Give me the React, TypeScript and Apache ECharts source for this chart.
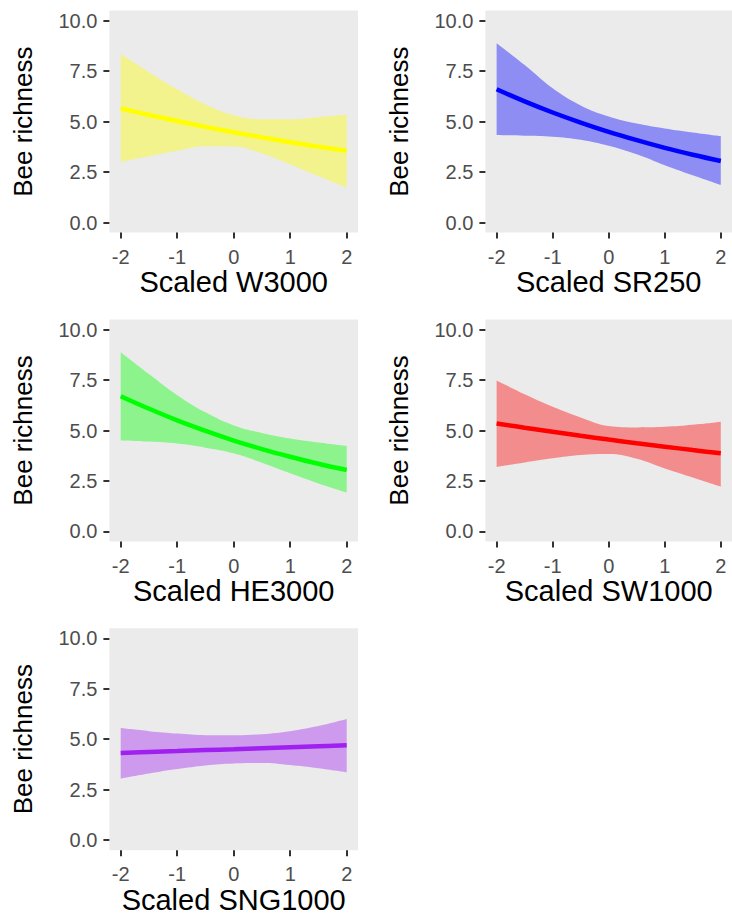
import React, { useEffect, useRef } from "react";
import * as echarts from "echarts";

const xs = [-2, -1.5, -1, -0.5, 0, 0.5, 1, 1.5, 2];
const xTicks = [-2, -1, 0, 1, 2];
const yTicks = [0, 2.5, 5, 7.5, 10];
const yTitle = "Bee richness";

const titles = ["Scaled W3000", "Scaled SR250", "Scaled HE3000", "Scaled SW1000", "Scaled SNG1000"];

const w3000Mean = [5.65, 5.33, 5.03, 4.74, 4.47, 4.22, 3.98, 3.76, 3.55];
const w3000Upper = [8.35, 7.45, 6.6, 5.85, 5.32, 5.12, 5.12, 5.22, 5.35];
const w3000Lower = [3.0, 3.28, 3.55, 3.78, 3.77, 3.42, 2.88, 2.3, 1.72];

const sr250Mean = [6.6, 6.0, 5.45, 4.95, 4.49, 4.08, 3.7, 3.36, 3.05];
const sr250Upper = [8.88, 7.8, 6.65, 5.8, 5.25, 4.9, 4.66, 4.46, 4.28];
const sr250Lower = [4.34, 4.3, 4.25, 4.1, 3.8, 3.38, 2.84, 2.34, 1.86];

const he3000Mean = [6.7, 6.08, 5.5, 4.98, 4.5, 4.08, 3.7, 3.35, 3.04];
const he3000Upper = [8.88, 7.8, 6.75, 5.9, 5.25, 4.88, 4.6, 4.4, 4.23];
const he3000Lower = [4.51, 4.45, 4.35, 4.15, 3.87, 3.4, 2.88, 2.38, 1.93];

const sw1000Mean = [5.35, 5.14, 4.94, 4.74, 4.55, 4.37, 4.2, 4.03, 3.87];
const sw1000Upper = [7.48, 6.8, 6.18, 5.65, 5.22, 5.15, 5.18, 5.28, 5.43];
const sw1000Lower = [3.19, 3.42, 3.62, 3.78, 3.83, 3.6, 3.12, 2.67, 2.22];

const sng1000Mean = [4.32, 4.37, 4.41, 4.46, 4.5, 4.55, 4.6, 4.65, 4.7];
const sng1000Upper = [5.55, 5.4, 5.28, 5.2, 5.19, 5.25, 5.4, 5.65, 6.0];
const sng1000Lower = [3.05, 3.3, 3.52, 3.7, 3.8, 3.82, 3.72, 3.56, 3.36];

const means = [w3000Mean, sr250Mean, he3000Mean, sw1000Mean, sng1000Mean];
const uppers = [w3000Upper, sr250Upper, he3000Upper, sw1000Upper, sng1000Upper];
const lowers = [w3000Lower, sr250Lower, he3000Lower, sw1000Lower, sng1000Lower];
const lineColors = ["#FFFF00", "#0000FF", "#00FF00", "#FF0000", "#A020F0"];
const PANEL_BG = "#EBEBEB";

const FONT = "Liberation Sans, Arial, sans-serif";

const panelLefts = [109.4, 485.4, 109.4, 485.4, 109.4];
const panelTops = [10.6, 319.5, 628.2];
const panelW = 248.6;
const panelH = 222;

export default function App() {
  const ref = useRef<HTMLDivElement>(null);
  useEffect(() => {
    if (!ref.current) return;
    const chart = echarts.init(ref.current, null, { renderer: "svg" });
    const grids: any[] = [];
    const xAxes: any[] = [];
    const yAxes: any[] = [];
    const series: any[] = [];
    for (let i = 0; i < 5; i++) {
      const row = Math.floor(i / 2);
      grids.push({
        left: panelLefts[i],
        top: panelTops[row],
        width: panelW,
        height: panelH,
        show: true,
        backgroundColor: PANEL_BG,
        borderWidth: 0,
        containLabel: false,
      });
      xAxes.push({
        type: "value",
        gridIndex: i,
        position: "bottom",
        min: -2.2,
        max: 2.2,
        name: titles[i],
        nameLocation: "middle",
        nameGap: 34,
        nameTextStyle: { color: "#000000", fontSize: 29, fontFamily: FONT },
        axisLine: { show: false, onZero: false },
        axisTick: { show: true, length: 6, customValues: xTicks, lineStyle: { color: "#333333", width: 2 } },
        axisLabel: {
          show: true,
          customValues: xTicks,
          margin: 14,
          color: "#4D4D4D",
          fontSize: 20,
          fontFamily: FONT,
          formatter: (v: number) => String(v),
        },
        splitLine: { show: false },
      });
      yAxes.push({
        type: "value",
        gridIndex: i,
        position: "left",
        min: -0.5,
        max: 10.5,
        name: yTitle,
        nameLocation: "middle",
        nameRotate: 90,
        nameGap: 73,
        nameTextStyle: { color: "#000000", fontSize: 26, fontFamily: FONT },
        axisLine: { show: false, onZero: false },
        axisTick: { show: true, length: 6, customValues: yTicks, lineStyle: { color: "#333333", width: 2 } },
        axisLabel: {
          show: true,
          customValues: yTicks,
          margin: 12,
          color: "#4D4D4D",
          fontSize: 20,
          fontFamily: FONT,
          formatter: (v: number) => v.toFixed(1),
        },
        splitLine: { show: false },
      });
      const lo = lowers[i];
      const hi = uppers[i];
      const mu = means[i];
      // Confidence band: stacked on the y value (dimension 0), x in dimension 1
      series.push({
        type: "line",
        xAxisIndex: i,
        yAxisIndex: i,
        stack: "band" + i,
        encode: { x: 1, y: 0 },
        symbol: "none",
        smooth: 0.4,
        lineStyle: { opacity: 0, width: 0 },
        data: xs.map((x, j) => [lo[j], x]),
        z: 1,
      });
      series.push({
        type: "line",
        xAxisIndex: i,
        yAxisIndex: i,
        stack: "band" + i,
        encode: { x: 1, y: 0 },
        symbol: "none",
        smooth: 0.4,
        lineStyle: { opacity: 0, width: 0 },
        areaStyle: { color: lineColors[i], opacity: 0.4 },
        data: xs.map((x, j) => [hi[j] - lo[j], x]),
        z: 2,
      });
      series.push({
        type: "line",
        xAxisIndex: i,
        yAxisIndex: i,
        symbol: "none",
        smooth: 0.4,
        lineStyle: { color: lineColors[i], width: 4.5 },
        data: xs.map((x, j) => [x, mu[j]]),
        z: 3,
      });
    }
    chart.setOption({
      animation: false,
      backgroundColor: "#FFFFFF",
      textStyle: { fontFamily: FONT },
      grid: grids,
      xAxis: xAxes,
      yAxis: yAxes,
      series,
    });
    return () => chart.dispose();
  }, []);
  return (
    <div
      ref={ref}
      style={{ position: "absolute", left: 0, top: 0, width: 732, height: 916 }}
    />
  );
}
